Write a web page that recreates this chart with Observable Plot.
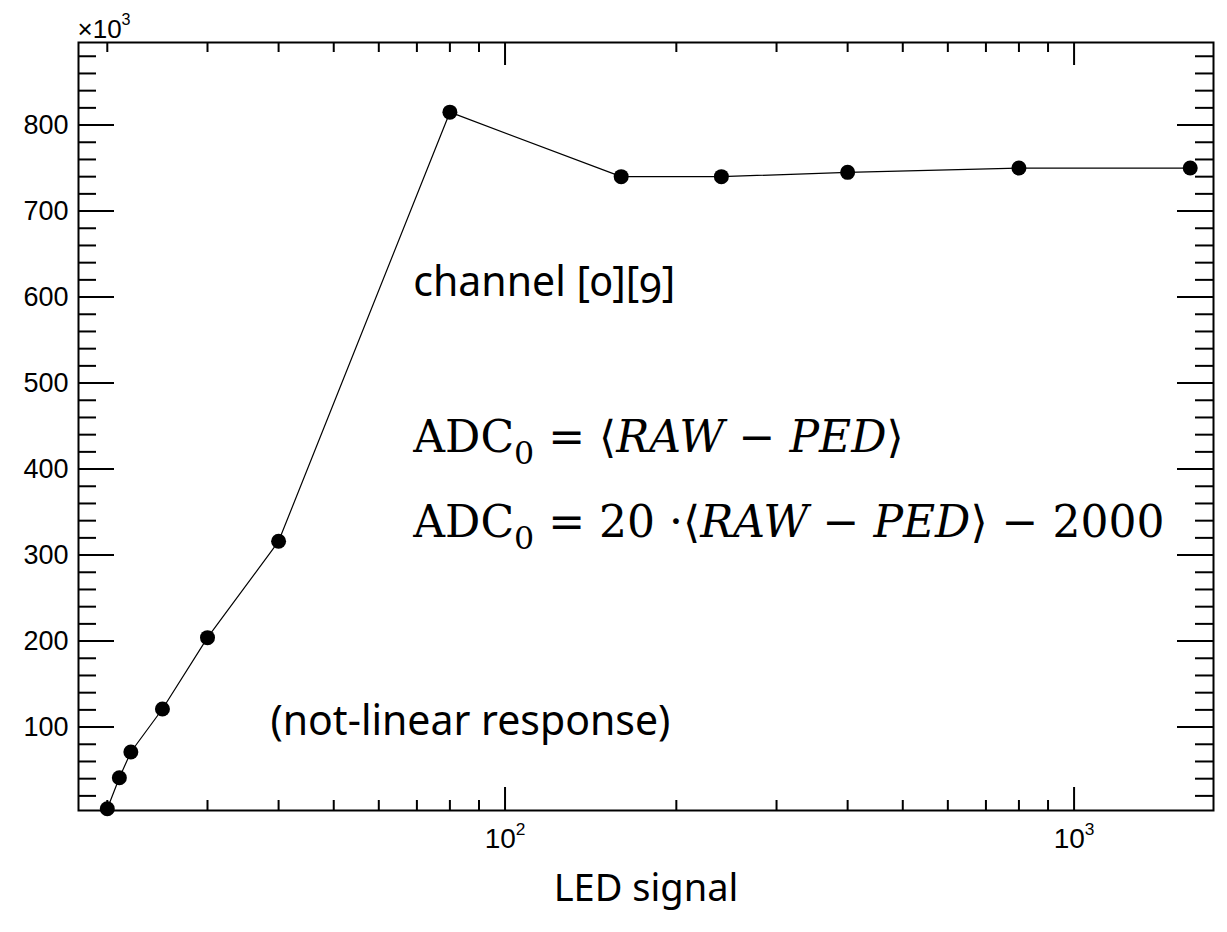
<!DOCTYPE html>
<html><head><meta charset="utf-8">
<script src="https://cdn.jsdelivr.net/npm/d3@7"></script>
<script src="https://cdn.jsdelivr.net/npm/@observablehq/plot@0.6"></script>
<style>
html,body{margin:0;padding:0;background:#fff;}
#chart svg{display:block;}
.sans-ann text{font-variant-numeric:oldstyle-nums;}
</style></head><body><div id="chart"></div>
<script>
// ---- data ----
const ledSignal = [20, 21, 22, 25, 30, 40, 80, 160, 240, 400, 800, 1600];
const adcValue  = [5, 41, 71, 121, 204, 316, 815, 740, 740, 745, 750, 750]; // ×10^3

// ---- tick values ----
const xMajorTicks = [100, 1000];
const xMajorLabels = ["10^2", "10^3"];
const xMinorTicks = [20, 30, 40, 50, 60, 70, 80, 90, 200, 300, 400, 500, 600, 700, 800, 900];
const yMajorTicks = [100, 200, 300, 400, 500, 600, 700, 800];
const yMinorTicks = [20,40,60,80,120,140,160,180,220,240,260,280,320,340,360,380,420,440,460,480,
                     520,540,560,580,620,640,660,680,720,740,760,780,820,840,860,880];

// ---- annotations (anchored in data coordinates) ----
const sansLabels = ["channel [0][9]", "(not-linear response)"];
const sansX = [69, 38.7];
const sansY = [601, 91];
const mathLabels = ["ADC0 = ⟨RAW − PED⟩", "ADC0 = 20 ·⟨RAW − PED⟩ − 2000"];
const mathX = [69, 69];
const mathY = [420, 321];
const xTitle = ["LED signal"];
const yMultiplier = ["×10^3"];

const W = 1227, H = 932, mL = 78, mR = 14, mT = 42, mB = 122;
const fw = W - mL - mR, fh = H - mT - mB;
const points = ledSignal.map((x, i) => ({x, y: adcValue[i]}));
const sansFont = "'Noto Sans', 'Open Sans', sans-serif";
const mathFont = "'DejaVu Serif', 'Liberation Serif', serif";

const chart = Plot.plot({
  width: W, height: H,
  marginLeft: mL, marginRight: mR, marginTop: mT, marginBottom: mB,
  style: {fontFamily: "'Liberation Sans', Arial, sans-serif", fontSize: "27px", color: "#000", background: "#fff"},
  x: {type: "log", domain: [17.8, 1758]},
  y: {domain: [3, 896]},
  marks: [
    // inward ticks, left & right
    Plot.tickY(yMajorTicks, {y: d => d, stroke: "#000", strokeWidth: 2, insetRight: fw - 36}),
    Plot.tickY(yMinorTicks, {y: d => d, stroke: "#000", strokeWidth: 2, insetRight: fw - 18}),
    Plot.tickY(yMajorTicks, {y: d => d, stroke: "#000", strokeWidth: 2, insetLeft: fw - 36}),
    Plot.tickY(yMinorTicks, {y: d => d, stroke: "#000", strokeWidth: 2, insetLeft: fw - 18}),
    // inward ticks, bottom & top
    Plot.tickX(xMajorTicks, {x: d => d, stroke: "#000", strokeWidth: 2, insetTop: fh - 23}),
    Plot.tickX(xMinorTicks, {x: d => d, stroke: "#000", strokeWidth: 2, insetTop: fh - 10}),
    Plot.tickX(xMajorTicks, {x: d => d, stroke: "#000", strokeWidth: 2, insetBottom: fh - 23}),
    Plot.tickX(xMinorTicks, {x: d => d, stroke: "#000", strokeWidth: 2, insetBottom: fh - 10}),
    Plot.frame({stroke: "#000", strokeWidth: 2}),
    // tick labels
    Plot.axisY(yMajorTicks, {tickSize: 0, tickPadding: 10, label: null, fontSize: 27}),
    Plot.axisX(xMajorTicks, {tickSize: 0, tickPadding: 18, label: null, fontSize: 28,
      tickFormat: d => xMajorLabels[xMajorTicks.indexOf(d)]}),
    Plot.text(yMultiplier, {frameAnchor: "top-left", textAnchor: "start", lineAnchor: "bottom", dx: -1, dy: -5, fontSize: 26}),
    // data
    Plot.line(points, {x: "x", y: "y", stroke: "#000", strokeWidth: 1.2}),
    Plot.dot(points, {x: "x", y: "y", r: 7.5, fill: "#000", stroke: null}),
    // annotations
    Plot.text(sansLabels, {x: (d, i) => sansX[i], y: (d, i) => sansY[i], text: d => d,
      textAnchor: "start", lineAnchor: "bottom", fontSize: 41, fontFamily: sansFont, className: "sans-ann"}),
    Plot.text(mathLabels, {x: (d, i) => mathX[i], y: (d, i) => mathY[i], text: d => d,
      textAnchor: "start", lineAnchor: "bottom", fontSize: 44, fontFamily: mathFont, className: "math-ann"}),
    Plot.text(xTitle, {frameAnchor: "bottom", lineAnchor: "bottom", dy: 90, fontSize: 38, fontFamily: sansFont})
  ]
});
document.getElementById("chart").appendChild(chart);

// superscripts written as "a^b"
d3.select(chart).selectAll("text").each(function () {
  const s = this.textContent;
  const m = /^(.*)\^(\d+)$/.exec(s);
  if (!m) return;
  const el = d3.select(this);
  el.text(null);
  el.append("tspan").text(m[1]);
  el.append("tspan").attr("font-size", "0.62em").attr("dy", "-0.75em").text(m[2]);
});

// math styling: upright ADC with subscript 0, italic variables
d3.select(chart).selectAll("g.math-ann text").each(function () {
  const s = this.textContent;
  const el = d3.select(this);
  el.text(null);
  const tokens = s.match(/ADC0|[A-Z]+|[^A-Z]+/g);
  let shifted = false;
  tokens.forEach(tok => {
    if (tok === "ADC0") {
      el.append("tspan").text("ADC");
      el.append("tspan").attr("font-size", "0.72em").attr("dy", "12").text("0");
      shifted = true;
    } else {
      const t = el.append("tspan").text(tok);
      if (/^[A-Z]+$/.test(tok)) t.attr("font-style", "italic");
      if (shifted) { t.attr("dy", "-12"); shifted = false; }
    }
  });
  el.style("white-space", "pre");
});
</script>
</body></html>
